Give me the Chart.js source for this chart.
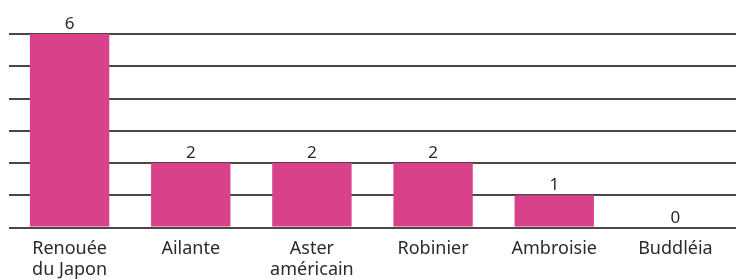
<!DOCTYPE html>
<html>
<head>
<meta charset="utf-8">
<script src="https://cdn.jsdelivr.net/npm/chart.js@4"></script>
<style>
  html, body { margin: 0; padding: 0; background: #fff; }
  #wrap { width: 739px; height: 280px; }
</style>
</head>
<body>
<div id="wrap"><canvas id="chart"></canvas></div>
<script>
const categories = [["Renouée", "du Japon"], "Ailante", ["Aster", "américain"], "Robinier", "Ambroisie", "Buddléia"];
const counts = [6, 2, 2, 2, 1, 0];

const TEXT = "#2f2929";
const BAR = "#d9418a";
const GRID = "#4e4646";

// value above each bar, placed from the bar element itself
const valueLabels = {
  id: "valueLabels",
  afterDatasetsDraw(chart) {
    const ctx = chart.ctx;
    const meta = chart.getDatasetMeta(0);
    ctx.save();
    ctx.fillStyle = TEXT;
    ctx.font = "17px 'Noto Sans'";
    ctx.textAlign = "center";
    ctx.textBaseline = "alphabetic";
    meta.data.forEach((bar, i) => {
      ctx.fillText(String(counts[i]), bar.x, bar.y - 5);
    });
    ctx.restore();
  }
};

new Chart(document.getElementById("chart"), {
  type: "bar",
  data: {
    labels: categories,
    datasets: [{
      data: counts,
      backgroundColor: BAR,
      borderWidth: 0,
      barPercentage: 0.655,
      categoryPercentage: 1
    }]
  },
  options: {
    responsive: true,
    maintainAspectRatio: false,
    animation: false,
    layout: { padding: { top: 34, left: 9, right: 3, bottom: -3 } },
    plugins: { legend: { display: false }, tooltip: { enabled: false } },
    scales: {
      x: {
        grid: { display: false },
        border: { display: false },
        ticks: {
          color: TEXT,
          font: { family: "'Noto Sans'", size: 18, lineHeight: 1.15 },
          padding: 3,
          maxRotation: 0,
          autoSkip: false
        }
      },
      y: {
        min: 0,
        max: 6,
        border: { display: false },
        grid: { color: GRID, lineWidth: 2, drawTicks: false },
        ticks: { display: false, stepSize: 1 }
      }
    }
  },
  plugins: [valueLabels]
});
</script>
</body>
</html>
